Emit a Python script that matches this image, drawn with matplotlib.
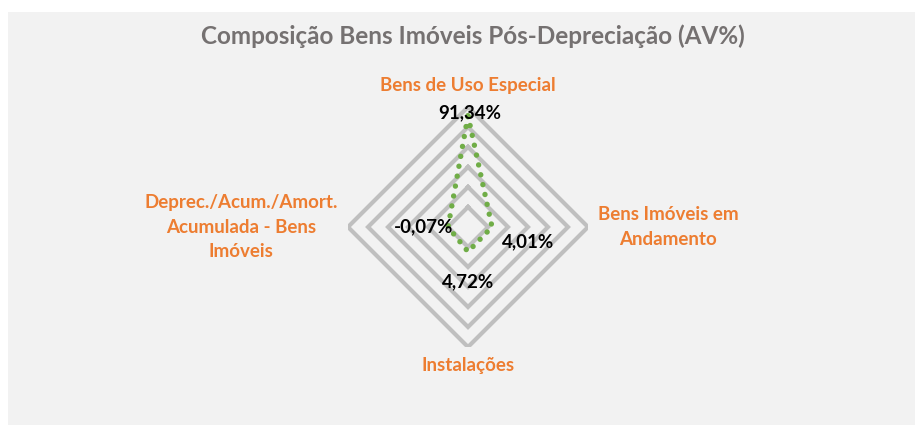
import matplotlib
matplotlib.use("Agg")
import matplotlib.pyplot as plt
import numpy as np

plt.rcParams["font.family"] = ["Lato", "DejaVu Sans"]

# data
CATEGORIES = ["Bens de Uso Especial", "Bens Imóveis em\nAndamento", "Instalações",
              "Deprec./Acum./Amort.\nAcumulada - Bens\nImóveis"]
VALUES = [0.9134, 0.0401, 0.0472, -0.0007]
LABELS = ["91,34%", "4,01%", "4,72%", "-0,07%"]
RINGS = [0.0, 0.2, 0.4, 0.6, 0.8, 1.0]
RMIN, RMAX = -0.2, 1.0

ORANGE = "#ed7d31"; GREEN = "#70ad47"; GRID = "#bfbfbf"; BG = "#f2f2f2"; TITLE = "#757171"

W, H = 915, 425
fig = plt.figure(figsize=(W / 100, H / 100), dpi=100, facecolor="white")
bg = fig.add_axes([8 / W, 0, 1 - 8 / W, 1 - 12 / H])
bg.set_facecolor(BG); bg.set_xticks([]); bg.set_yticks([])
for s in bg.spines.values():
    s.set_visible(False)

# polar axes: center (468,227) px, radius 120 px
cx, cy, R = 468, 227, 120
ax = fig.add_axes([(cx - R) / W, (H - cy - R) / H, 2 * R / W, 2 * R / H], projection="polar")
ax.set_facecolor("none")
ax.set_theta_zero_location("N")
ax.set_theta_direction(-1)
ax.set_ylim(RMIN, RMAX)
ax.grid(False); ax.set_xticks([]); ax.set_yticks([])
ax.spines["polar"].set_visible(False)

theta = np.arange(len(CATEGORIES)) * 2 * np.pi / len(CATEGORIES)
tc = np.append(theta, theta[0])

for r in RINGS:
    ax.plot(tc, [r] * len(tc), color=GRID, lw=3.0, solid_joinstyle="miter", zorder=1)

ax.plot(tc, VALUES + VALUES[:1], color=GREEN, lw=3.9, linestyle=(0, (0.01, 1.85)),
        dash_capstyle="round", zorder=3)

# data labels (pixel offsets)
lab_off = [(2, 3), (36, -15), (0, -30), (-25, 0)]
for t, v, s, off in zip(theta, VALUES, LABELS, lab_off):
    ax.annotate(s, (t, v), xytext=off, textcoords="offset pixels", ha="center", va="center",
                fontsize=13.5, fontweight="bold", color="black", zorder=4)

# category labels
cat_off = [(0, 21), (80, 0), (0, -18), (-107, 0)]
for t, s, off in zip(theta, CATEGORIES, cat_off):
    ax.annotate(s, (t, RMAX), xytext=off, textcoords="offset pixels", ha="center", va="center",
                fontsize=13.5, fontweight="bold", color=ORANGE, linespacing=1.55,
                annotation_clip=False)

fig.text(473 / W, 1 - 36 / H, "Composição Bens Imóveis Pós-Depreciação (AV%)", ha="center",
         va="center", fontsize=17.5, fontweight="bold", color=TITLE)

fig.savefig("out.png", dpi=100, facecolor="white")
